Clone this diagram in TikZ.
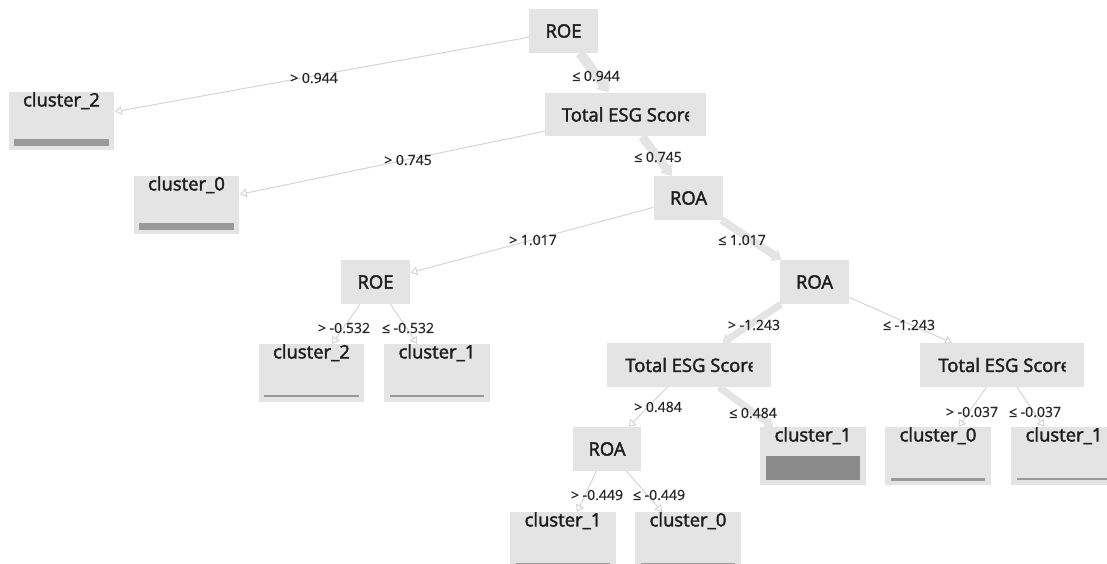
\documentclass[tikz,border=0pt]{standalone}
\usepackage{fontspec}
\setmainfont{Open Sans}
\newfontfamily\splitfont[FakeBold=2.2]{Open Sans}
\newfontfamily\cutfont[FakeBold=0.6]{Open Sans}
\usepackage{trimclip}
\usetikzlibrary{
    arrows.meta,
    calc
}
\definecolor{boxgray}{HTML}{E4E4E4}
\definecolor{edgegray}{HTML}{D6D6D6}
\definecolor{bargray}{HTML}{999999}
\definecolor{textgray}{HTML}{1E1E1E}
\tikzstyle{split} = [
    rectangle,
    fill=boxgray,
    minimum width=1.38cm,
    minimum height=0.87cm,
    inner sep=0pt,
    text=textgray,
    font=\splitfont\fontsize{10.5}{12}\selectfont
]
\tikzstyle{leaf} = [
    rectangle,
    fill=boxgray,
    anchor=north,
    minimum width=2.12cm,
    inner xsep=0pt,
    inner ysep=0.5pt,
    text height=7.5pt,
    text depth=24.5pt,
    text=textgray,
    font=\splitfont\fontsize{10.5}{12}\selectfont
]
\tikzstyle{branch} = [
    draw=edgegray,
    line width=0.6pt,
    -{Triangle[open, length=4pt, width=5pt]}
]
\tikzstyle{mainbranch} = [
    draw=boxgray,
    fill=boxgray,
    -{Triangle[length=0pt 1.1, width=0pt 1.7]}
]
\tikzstyle{cut} = [
    inner sep=0pt,
    text=black!85,
    font=\cutfont\fontsize{8}{9.6}\selectfont
]
\tikzstyle{bar} = [
    fill=bargray
]
\begin{document}
\begin{tikzpicture}[x=0.02cm, y=-0.02cm]
        \path[use as bounding box, clip] (0,0) rectangle (1107,564);

        % Split nodes
        \node[split] (root) at (563.5,31) {ROE};
        \node[split, minimum width=3.22cm] (tesga) at (625.5,114.5) {\clipbox{0pt 0pt 3pt 0pt}{Total ESG Score}};
        \node[split] (roaa) at (688.5,198) {ROA};
        \node[split] (roeb) at (375.5,282) {ROE};
        \node[split] (roab) at (814.5,282) {ROA};
        \node[split, minimum width=3.28cm] (tesgb) at (689,365) {\clipbox{0pt 0pt 3pt 0pt}{Total ESG Score}};
        \node[split, minimum width=3.28cm] (tesgc) at (1002,365) {\clipbox{0pt 0pt 3pt 0pt}{Total ESG Score}};
        \node[split] (roac) at (607,449) {ROA};

        % Leaves
        \node[leaf] (c2a) at (61.5,92) {cluster\_2};
        \node[leaf] (c0a) at (186.5,176) {cluster\_0};
        \node[leaf] (c2b) at (311.5,344) {cluster\_2};
        \node[leaf] (c1b) at (437,344) {cluster\_1};
        \node[leaf] (c1c) at (813,427) {cluster\_1};
        \node[leaf] (c0c) at (938,427) {cluster\_0};
        \node[leaf] (c1d) at (1064,427) {cluster\_1};
        \node[leaf] (c1e) at (563,512) {cluster\_1};
        \node[leaf] (c0e) at (688,512) {cluster\_0};

        % Bars
        \fill[bar] ($(c2a.south west)+(6,-5)$) rectangle ($(c2a.south east)+(-6,-12)$);
        \fill[bar] ($(c0a.south west)+(6,-5)$) rectangle ($(c0a.south east)+(-6,-12)$);
        \fill[bar] ($(c2b.south west)+(6,-6)$) rectangle ($(c2b.south east)+(-6,-8)$);
        \fill[bar] ($(c1b.south west)+(6,-6)$) rectangle ($(c1b.south east)+(-6,-8)$);
        \fill[bar, fill=bargray!90!black] ($(c1c.south west)+(6,-6)$) rectangle ($(c1c.south east)+(-6,-30)$);
        \fill[bar] ($(c0c.south west)+(6,-5)$) rectangle ($(c0c.south east)+(-6,-8)$);
        \fill[bar] ($(c1d.south west)+(6,-6)$) rectangle ($(c1d.south east)+(-6,-8)$);
        \fill[bar] ($(c1e.south west)+(6,-5)$) rectangle ($(c1e.south east)+(-6,-8)$);
        \fill[bar] ($(c0e.south west)+(6,-5)$) rectangle ($(c0e.south east)+(-6,-8)$);

        % Branches
        \draw[branch] (root) -- (c2a);
        \draw[mainbranch, line width=5.5pt] (root) -- (tesga);
        \draw[branch] (tesga) -- (c0a);
        \draw[mainbranch, line width=5pt] (tesga) -- (roaa);
        \draw[branch] (roaa) -- (roeb);
        \draw[mainbranch, line width=4.5pt] (roaa) -- (roab);
        \draw[branch] (roeb) -- (c2b);
        \draw[branch] (roeb) -- (c1b);
        \draw[mainbranch, line width=4pt] (roab) -- (tesgb);
        \draw[branch] (roab) -- (tesgc);
        \draw[branch] (tesgb) -- (roac);
        \draw[mainbranch, line width=4pt] (tesgb) -- (c1c);
        \draw[branch] (tesgc) -- (c0c);
        \draw[branch] (tesgc) -- (c1d);
        \draw[branch] (roac) -- (c1e);
        \draw[branch] (roac) -- (c0e);

        % Thresholds
        \node[cut] (t1) at (314,78) {> 0.944};
        \node[cut] (t2) at (596,76) {≤ 0.944};
        \node[cut] (t3) at (408,160) {> 0.745};
        \node[cut] (t4) at (658,157) {≤ 0.745};
        \node[cut] (t5) at (533,240) {> 1.017};
        \node[cut] (t6) at (742,240) {≤ 1.017};
        \node[cut] (t7) at (344,328) {> -0.532};
        \node[cut] (t8) at (408,328) {≤ -0.532};
        \node[cut] (t9) at (754,325) {> -1.243};
        \node[cut] (t10) at (909,325) {≤ -1.243};
        \node[cut] (t11) at (658,407) {> 0.484};
        \node[cut] (t12) at (753,413) {≤ 0.484};
        \node[cut] (t13) at (972,412) {> -0.037};
        \node[cut] (t14) at (1035,412) {≤ -0.037};
        \node[cut] (t15) at (597,495) {> -0.449};
        \node[cut] (t16) at (659,495) {≤ -0.449};
    \end{tikzpicture}
\end{document}
